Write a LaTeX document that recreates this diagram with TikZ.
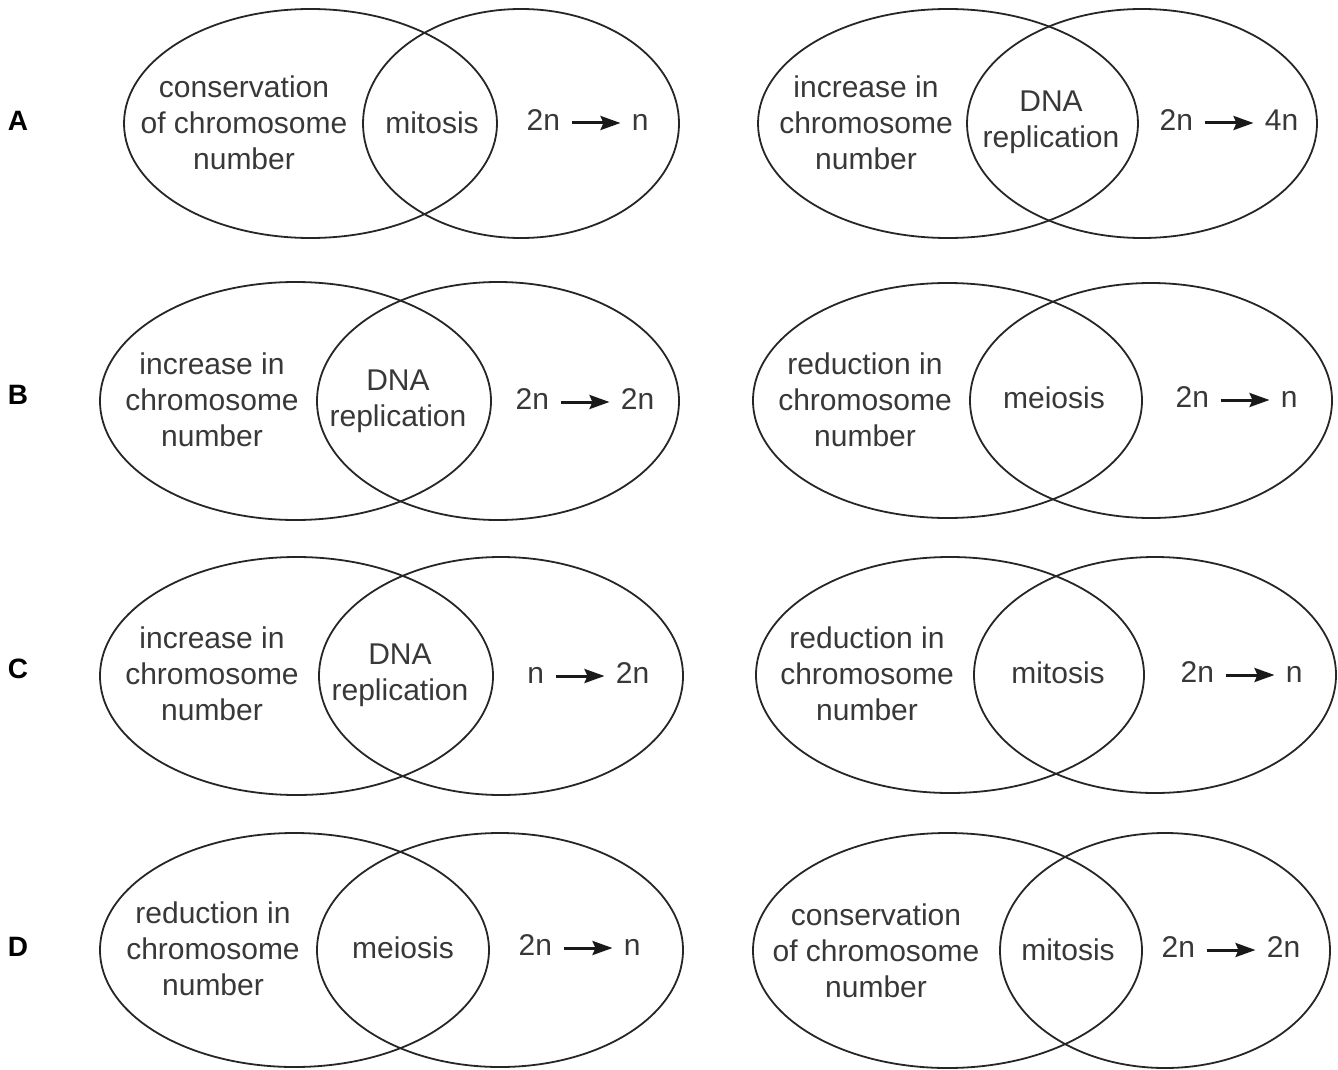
\documentclass[tikz,border=0pt]{standalone}
\usepackage{fontspec}
\setmainfont{Liberation Sans}
\usetikzlibrary{shapes.geometric,arrows.meta}
\tikzset{
  venn/.style={draw=black!85, ellipse, line width=0.9pt, inner sep=0pt, outer sep=0pt},
  lbl/.style={font=\fontsize{15}{18}\selectfont, text=black!78, align=center, inner sep=0pt},
  num/.style={font=\fontsize{15}{18}\selectfont, text=black!78, inner sep=0pt, text height=0.72em, text depth=0pt},
  opt/.style={font=\bfseries\fontsize{14}{16}\selectfont, text=black, inner sep=0pt},
  conv/.style={-{Stealth[length=10pt,width=7pt,inset=1.5pt]}, line width=1.5pt, draw=black!90, shorten <=5.5pt, shorten >=5.5pt}
}
\begin{document}
\begin{tikzpicture}[x=0.5pt,y=-0.5pt]
\useasboundingbox (0,0) rectangle (1338,1070);
% option letters
\node[opt] (lA) at (18,121) {A};
\node[opt] (lB) at (18,395) {B};
\node[opt] (lC) at (18,669) {C};
\node[opt] (lD) at (18,947) {D};

% ---------- A left
\node[venn, minimum width=186.5pt, minimum height=114.5pt] (AlL) at (310.5,123.5) {};
\node[venn, minimum width=158pt, minimum height=114.5pt] (AlR) at (521,123.5) {};
\node[lbl] (AlT) at (244,123) {conservation\\of chromosome\\number};
\node[lbl] (AlM) at (432,123) {mitosis};
\node[num, anchor=east] (Al1) at (560.5,123) {2n};
\node[num, anchor=west] (Al2) at (631.5,123) {n};
\draw[conv] (Al1.east) -- (Al2.west);

% ---------- A right
\node[venn, minimum width=190pt, minimum height=114.5pt] (ArL) at (948,123.5) {};
\node[venn, minimum width=175pt, minimum height=114.5pt] (ArR) at (1142,123.5) {};
\node[lbl] (ArT) at (866,123) {increase in\\chromosome\\number};
\node[lbl] (ArM) at (1051,122) {DNA\\replication};
\node[num, anchor=east] (Ar1) at (1193.5,123) {2n};
\node[num, anchor=west] (Ar2) at (1264.5,123) {4n};
\draw[conv] (Ar1.east) -- (Ar2.west);

% ---------- B left
\node[venn, minimum width=195.5pt, minimum height=119pt] (BlL) at (295.5,401) {};
\node[venn, minimum width=181pt, minimum height=119pt] (BlR) at (498,401) {};
\node[lbl] (BlT) at (212,400) {increase in\\chromosome\\number};
\node[lbl] (BlM) at (398,401) {DNA\\replication};
\node[num, anchor=east] (Bl1) at (549.5,402) {2n};
\node[num, anchor=west] (Bl2) at (620.5,402) {2n};
\draw[conv] (Bl1.east) -- (Bl2.west);

% ---------- B right
\node[venn, minimum width=194.5pt, minimum height=117.5pt] (BrL) at (947.5,400.5) {};
\node[venn, minimum width=181pt, minimum height=117.5pt] (BrR) at (1151,400.5) {};
\node[lbl] (BrT) at (865,400) {reduction in\\chromosome\\number};
\node[lbl] (BrM) at (1054,398) {meiosis};
\node[num, anchor=east] (Br1) at (1209.5,400) {2n};
\node[num, anchor=west] (Br2) at (1280.5,400) {n};
\draw[conv] (Br1.east) -- (Br2.west);

% ---------- C left
\node[venn, minimum width=196.5pt, minimum height=119pt] (ClL) at (296.5,676) {};
\node[venn, minimum width=182pt, minimum height=119pt] (ClR) at (501,676) {};
\node[lbl] (ClT) at (212,674) {increase in\\chromosome\\number};
\node[lbl] (ClM) at (400,675) {DNA\\replication};
\node[num, anchor=east] (Cl1) at (544.5,676) {n};
\node[num, anchor=west] (Cl2) at (615.5,676) {2n};
\draw[conv] (Cl1.east) -- (Cl2.west);

% ---------- C right
\node[venn, minimum width=194pt, minimum height=118pt] (CrL) at (950,675) {};
\node[venn, minimum width=181pt, minimum height=118pt] (CrR) at (1155,675) {};
\node[lbl] (CrT) at (867,674) {reduction in\\chromosome\\number};
\node[lbl] (CrM) at (1058,673) {mitosis};
\node[num, anchor=east] (Cr1) at (1214.5,675) {2n};
\node[num, anchor=west] (Cr2) at (1285.5,675) {n};
\draw[conv] (Cr1.east) -- (Cr2.west);

% ---------- D left
\node[venn, minimum width=194.5pt, minimum height=117pt] (DlL) at (294.5,950) {};
\node[venn, minimum width=183pt, minimum height=117pt] (DlR) at (500,950) {};
\node[lbl] (DlT) at (213,949) {reduction in\\chromosome\\number};
\node[lbl] (DlM) at (403,948) {meiosis};
\node[num, anchor=east] (Dl1) at (552.5,948) {2n};
\node[num, anchor=west] (Dl2) at (623.5,948) {n};
\draw[conv] (Dl1.east) -- (Dl2.west);

% ---------- D right
\node[venn, minimum width=194.5pt, minimum height=117.5pt] (DrL) at (947.5,950.5) {};
\node[venn, minimum width=165pt, minimum height=117.5pt] (DrR) at (1165,950.5) {};
\node[lbl] (DrT) at (876,951) {conservation\\of chromosome\\number};
\node[lbl] (DrM) at (1068,950) {mitosis};
\node[num, anchor=east] (Dr1) at (1195.5,950) {2n};
\node[num, anchor=west] (Dr2) at (1266.5,950) {2n};
\draw[conv] (Dr1.east) -- (Dr2.west);
\end{tikzpicture}
\end{document}
